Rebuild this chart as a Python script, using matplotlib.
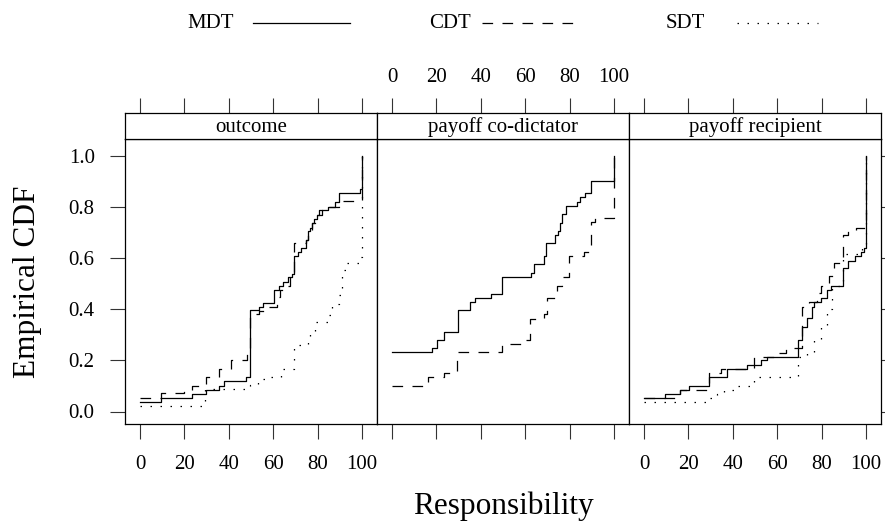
import matplotlib
matplotlib.use("Agg")
import matplotlib.pyplot as plt
from matplotlib.lines import Line2D

plt.rcParams['font.family'] = ['Liberation Serif', 'DejaVu Serif']

panels = ["outcome", "payoff co-dictator", "payoff recipient"]
groups = ["MDT", "CDT", "SDT"]

# ECDF step points (x = responsibility, y = cumulative share after the step)
outcome_mdt_x = [0, 9.3, 23.6, 29.6, 35.6, 37.7, 47.6, 49.5, 53.6, 55.6, 60.5, 62.5, 64.5, 66.5, 68.6, 69.5, 71, 72.5, 74.6, 75.5, 76.6, 77.5, 78.5, 79.6, 80.6, 84.5, 87.8, 89.6, 99.1, 100]
outcome_mdt_y = [0.036, 0.054, 0.068, 0.086, 0.10, 0.118, 0.134, 0.396, 0.41, 0.425, 0.477, 0.493, 0.508, 0.525, 0.54, 0.61, 0.625, 0.64, 0.67, 0.706, 0.72, 0.737, 0.753, 0.77, 0.787, 0.80, 0.82, 0.855, 0.87, 1.0]
outcome_cdt_x = [0, 9.3, 20, 23.6, 29.6, 35.6, 41, 48, 49.5, 53.6, 57.5, 61.5, 63, 65, 67.5, 69.5, 74.6, 75.5, 77.5, 79.6, 82, 85, 89.5, 100]
outcome_cdt_y = [0.054, 0.071, 0.084, 0.10, 0.135, 0.168, 0.20, 0.234, 0.38, 0.395, 0.41, 0.45, 0.477, 0.493, 0.525, 0.66, 0.67, 0.706, 0.737, 0.77, 0.787, 0.80, 0.824, 1.0]
outcome_sdt_x = [0, 29.3, 49.5, 53, 59, 63.5, 69.5, 75.5, 76.5, 79, 84.5, 86.5, 89.6, 91, 93.2, 98.5, 100]
outcome_sdt_y = [0.02, 0.087, 0.104, 0.126, 0.136, 0.166, 0.26, 0.28, 0.31, 0.35, 0.378, 0.42, 0.456, 0.553, 0.58, 0.606, 1.0]

codict_mdt_x = [0, 18, 20.3, 23.3, 29.6, 35.3, 37.5, 44.6, 49.5, 62.6, 63.8, 68.6, 69.5, 73.6, 74.6, 75.5, 76.6, 78.5, 83.3, 84.5, 87, 89.6, 100]
codict_mdt_y = [0.233, 0.247, 0.28, 0.313, 0.396, 0.428, 0.445, 0.461, 0.528, 0.543, 0.576, 0.608, 0.658, 0.69, 0.706, 0.738, 0.772, 0.804, 0.82, 0.838, 0.854, 0.902, 1.0]
codict_cdt_x = [0, 16, 23.3, 29.3, 49.5, 58.5, 62.3, 68.3, 69.8, 74.3, 76.6, 79.6, 86.3, 89.6, 91.5, 100]
codict_cdt_y = [0.10, 0.134, 0.15, 0.233, 0.264, 0.28, 0.362, 0.38, 0.443, 0.49, 0.528, 0.608, 0.624, 0.74, 0.756, 1.0]

recip_mdt_x = [0, 9.3, 16, 20.3, 29.3, 37.2, 46.5, 52.6, 55.6, 69.5, 71.3, 73.6, 75.5, 76.6, 79.6, 82.6, 84.1, 89.6, 91.7, 95.1, 97.6, 99.1, 100]
recip_mdt_y = [0.054, 0.07, 0.086, 0.10, 0.135, 0.168, 0.183, 0.20, 0.215, 0.28, 0.33, 0.365, 0.41, 0.43, 0.445, 0.477, 0.493, 0.56, 0.59, 0.61, 0.625, 0.64, 1.0]
recip_cdt_x = [0, 16, 29.3, 34.5, 49.5, 60.8, 63.8, 71, 74.3, 78, 79.6, 83.3, 85.6, 89.6, 91.7, 95.5, 100]
recip_cdt_y = [0.054, 0.086, 0.15, 0.168, 0.215, 0.23, 0.247, 0.41, 0.43, 0.465, 0.49, 0.53, 0.58, 0.69, 0.707, 0.72, 1.0]
recip_sdt_x = [0, 29.3, 33, 36, 41.3, 49.5, 69.5, 73.6, 76.6, 79.6, 82.6, 84.8, 89.6, 98.3, 100]
recip_sdt_y = [0.036, 0.053, 0.068, 0.085, 0.10, 0.134, 0.215, 0.23, 0.28, 0.33, 0.40, 0.49, 0.617, 0.64, 1.0]

series = [
    [(outcome_mdt_x, outcome_mdt_y, "MDT"), (outcome_cdt_x, outcome_cdt_y, "CDT"), (outcome_sdt_x, outcome_sdt_y, "SDT")],
    [(codict_mdt_x, codict_mdt_y, "MDT"), (codict_cdt_x, codict_cdt_y, "CDT")],
    [(recip_mdt_x, recip_mdt_y, "MDT"), (recip_cdt_x, recip_cdt_y, "CDT"), (recip_sdt_x, recip_sdt_y, "SDT")],
]

xticks = [0, 20, 40, 60, 80, 100]
yticks = [0.0, 0.2, 0.4, 0.6, 0.8, 1.0]
ytick_labels = ["0.0", "0.2", "0.4", "0.6", "0.8", "1.0"]

styles = {
    "MDT": dict(linestyle="-"),
    "CDT": dict(linestyle=(0, (8.5, 7.5))),
    "SDT": dict(linestyle=(0, (1.2, 6.8))),
}

W, H = 885, 526
fig = plt.figure(figsize=(W / 100, H / 100), dpi=100)

def fx(px):
    return px / W

def fy(py):
    return 1 - py / H

panel_left = [125, 377, 629]
panel_w = 252
top_plot = 139
bottom_plot = 424
strip_top = 113

XLIM = (-15 / 2.22, (panel_w - 15) / 2.22)
YLIM = (-(bottom_plot - 411.5) / 255.5, (411.5 - top_plot) / 255.5)

TICKLEN = 15 * 0.72
FS = 15

for i, name in enumerate(panels):
    L = panel_left[i]
    ax = fig.add_axes([fx(L), fy(bottom_plot), panel_w / W, (bottom_plot - top_plot) / H])
    for xs, ys, g in series[i]:
        ax.step(xs, ys, where="post", color="black", linewidth=0.9, **styles[g])
    ax.set_xlim(*XLIM)
    ax.set_ylim(*YLIM)
    ax.set_xticks(xticks)
    ax.set_yticks(yticks)
    for sp in ax.spines.values():
        sp.set_linewidth(0.9)
    ax.tick_params(axis="both", direction="out", length=TICKLEN, width=0.8,
                   labelsize=FS, color="#333333")
    ax.tick_params(axis="x", pad=11.5)
    ax.tick_params(axis="y", pad=11)
    ax.tick_params(top=False, labeltop=False)
    if i == 1:
        ax.tick_params(axis="x", labelbottom=False)
    if i == 0:
        ax.set_yticklabels(ytick_labels)
        ax.tick_params(axis="y", left=True, labelleft=True, right=False)
    elif i == 2:
        ax.tick_params(axis="y", left=False, labelleft=False, right=True, labelright=False)
    else:
        ax.tick_params(axis="y", left=False, labelleft=False, right=False)

    sax = fig.add_axes([fx(L), fy(top_plot), panel_w / W, (top_plot - strip_top) / H])
    sax.set_xlim(*XLIM)
    sax.set_ylim(0, 1)
    sax.set_yticks([])
    sax.set_xticks(xticks)
    for sp in sax.spines.values():
        sp.set_linewidth(0.9)
    sax.tick_params(axis="x", direction="out", length=TICKLEN, width=0.8, color="#333333",
                    bottom=False, labelbottom=False, top=True, labeltop=(i == 1),
                    labelsize=FS, pad=8)
    sax.text(0.5, 0.45, name, transform=sax.transAxes, ha="center", va="center", fontsize=FS)

fig.text(fx(28), fy(281.5), "Empirical CDF", rotation=90, ha="center", va="center", fontsize=22.5)
fig.text(fx(503), fy(506), "Responsibility", ha="center", va="center", fontsize=22.5)

# legend on top
leg_y = fy(23)
legend_items = [("MDT", 211, 253, 350), ("CDT", 450, 482, 580), ("SDT", 685, 737, 818)]
for g, tx, l0, l1 in legend_items:
    fig.text(fx(tx), leg_y, g, ha="center", va="center", fontsize=FS)
    fig.add_artist(Line2D([fx(l0), fx(l1)], [leg_y, leg_y], transform=fig.transFigure,
                          color="black", linewidth=0.9, **styles[g]))

fig.savefig("out.png", dpi=100)
